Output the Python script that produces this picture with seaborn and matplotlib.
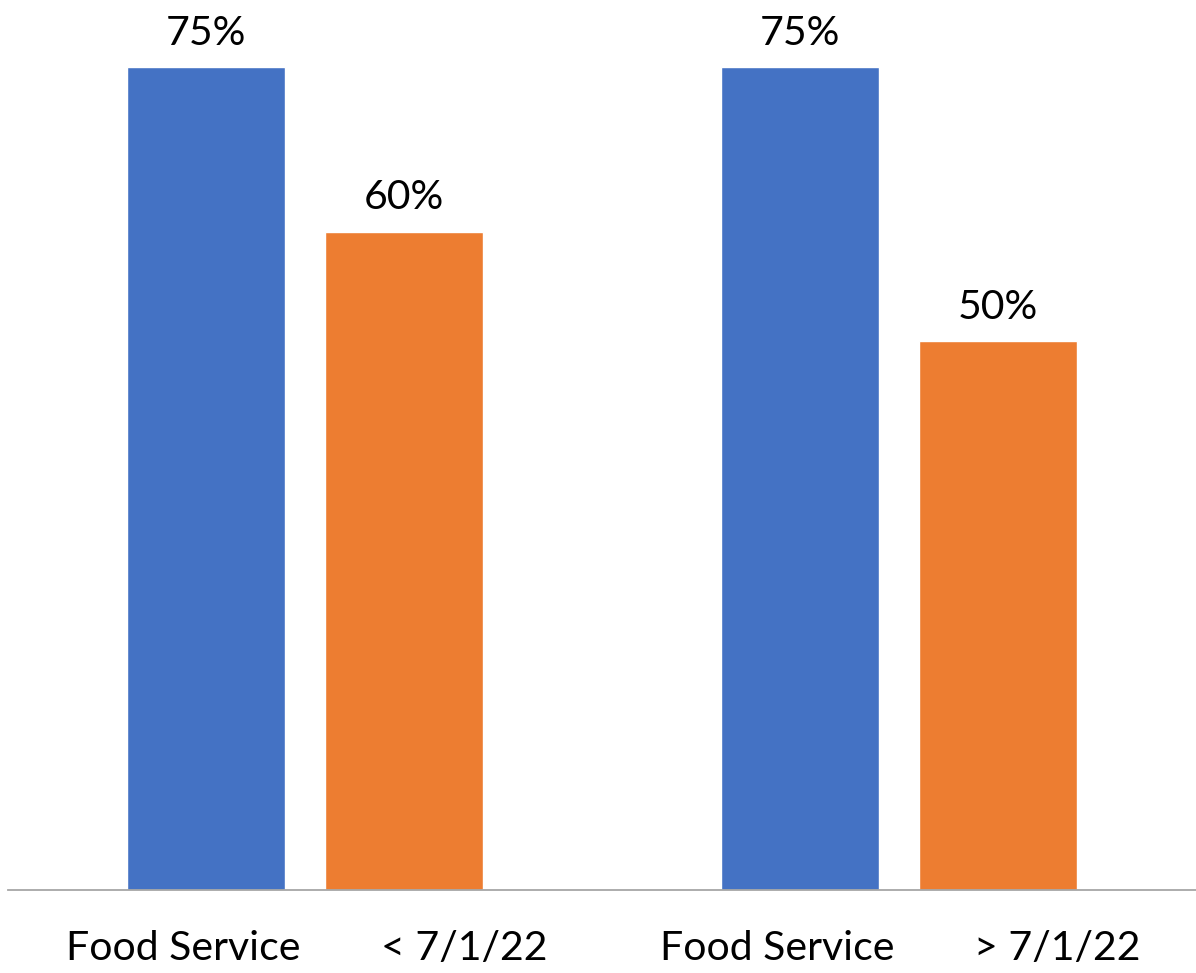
import matplotlib
matplotlib.use("Agg")
import matplotlib.pyplot as plt
import seaborn as sns
import pandas as pd

# Data
groups = ["Before", "After"]
series = ["Food Service", "Date"]
food_service = [75, 75]
date_values = [60, 50]
bar_labels = ["Food Service", "< 7/1/22", "Food Service", "> 7/1/22"]
colors = {"Food Service": "#4472C4", "Date": "#ED7D31"}

df = pd.DataFrame({
    "group": groups * 2,
    "series": ["Food Service"] * 2 + ["Date"] * 2,
    "value": food_service + date_values,
})

sns.set_theme(style="white")
plt.rcParams["font.family"] = ["Lato", "DejaVu Sans"]

fig = plt.figure(figsize=(11.96, 9.73), dpi=100)
ax = fig.add_axes([8 / 1196, (973 - 890) / 973, 1 - 8 / 1196, (890 - 0) / 973])

sns.barplot(data=df, x="group", y="value", hue="series", order=groups,
            hue_order=series, palette=colors, width=0.667, gap=0.2,
            saturation=1, legend=False, ax=ax)

ax.set_xlim(-0.5, 1.5)
ax.set_ylim(0, 75 * 890 / 823)

# Value labels above each bar
centers = []
for container in ax.containers:
    for bar in container:
        cx = bar.get_x() + bar.get_width() / 2
        centers.append(cx)
        ax.annotate(f"{bar.get_height():.0f}%", (cx, bar.get_height()),
                    xytext=(0, 16), textcoords="offset points",
                    ha="center", va="baseline", fontsize=29.5, color="#000000")

# Category labels sit slightly apart from the bar centres
centers = sorted(centers)
label_shift = [-0.039, 0.101, -0.039, 0.100]
ax.set_xticks([c + s for c, s in zip(centers, label_shift)])
ax.set_xticklabels(bar_labels, fontsize=29.5, color="#000000")
ax.tick_params(axis="x", length=0, pad=29)
ax.set_yticks([])
ax.set_xlabel("")
ax.set_ylabel("")

for side in ["top", "right", "left"]:
    ax.spines[side].set_visible(False)
ax.spines["bottom"].set_color("#a6a6a6")
ax.spines["bottom"].set_linewidth(1.3)

fig.savefig("out.png", dpi=100)
